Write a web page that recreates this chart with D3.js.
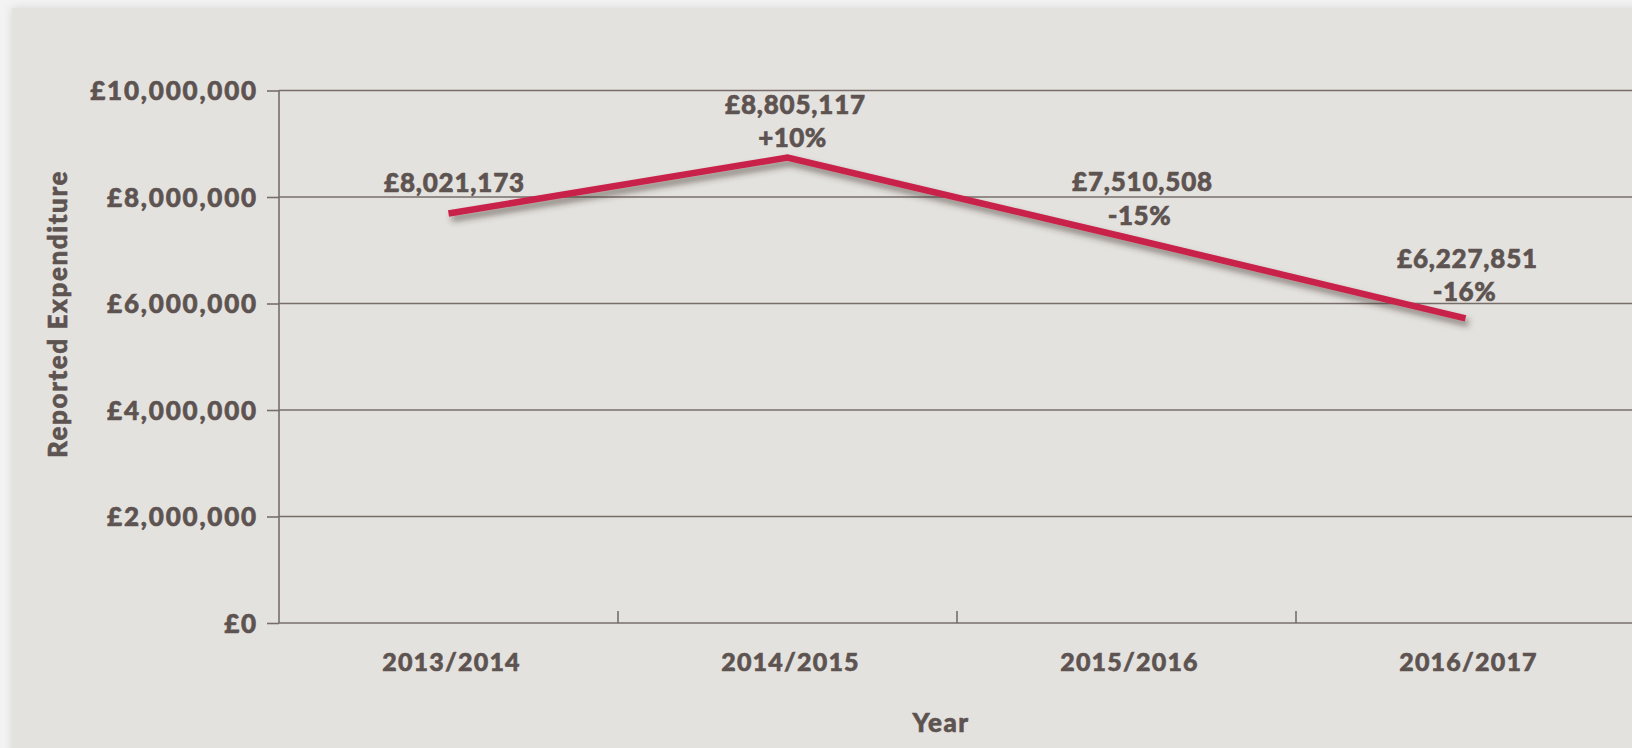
<!DOCTYPE html>
<html>
<head>
<meta charset="utf-8">
<script src="https://cdn.jsdelivr.net/npm/d3@7"></script>
<style>
  html, body { margin: 0; padding: 0; background: #f3f3f3; }
  svg { display: block; }
  text { font-family: Lato, "Open Sans", sans-serif; font-weight: 900; fill: #5d5351; stroke: #5d5351; stroke-width: 0.6px; }
</style>
</head>
<body>
<svg id="chart" width="1632" height="748"></svg>
<script>
// ---- data ----
const categories = ["2013/2014", "2014/2015", "2015/2016", "2016/2017"];
const plottedValues = [7690000, 8740000, 7240000, 5720000];
const valueLabels = ["£8,021,173", "£8,805,117", "£7,510,508", "£6,227,851"];
const changeLabels = ["", "+10%", "-15%", "-16%"];
const yTicks = [0, 2000000, 4000000, 6000000, 8000000, 10000000];
const yTitle = "Reported Expenditure";
const xTitle = "Year";

// ---- layout ----
const W = 1632, H = 748;
const svg = d3.select("#chart");
const defs = svg.append("defs");

const panelShadow = defs.append("filter").attr("id", "panelShadow")
  .attr("x", "-5%").attr("y", "-5%").attr("width", "110%").attr("height", "110%");
panelShadow.append("feDropShadow").attr("dx", 0).attr("dy", 0)
  .attr("stdDeviation", 5).attr("flood-color", "#000").attr("flood-opacity", 0.12);

const lineShadow = defs.append("filter").attr("id", "lineShadow")
  .attr("x", "-10%").attr("y", "-30%").attr("width", "120%").attr("height", "160%");
lineShadow.append("feDropShadow").attr("dx", 3).attr("dy", 5)
  .attr("stdDeviation", 3).attr("flood-color", "#3a302c").attr("flood-opacity", 0.55);

svg.append("rect").attr("x", 12).attr("y", 8).attr("width", W + 40).attr("height", H + 40)
  .attr("fill", "#e4e2de").attr("filter", "url(#panelShadow)");

const x = d3.scaleBand().domain(categories).range([279, 1635]).padding(0);
const y = d3.scaleLinear().domain([0, 10000000]).range([623, 90.5]);
const gridColor = "#776e6a";

// y axis (ticks + tick labels)
const yAxis = d3.axisLeft(y).tickValues(yTicks)
  .tickSize(12).tickPadding(9)
  .tickFormat(d => "£" + d3.format(",")(d));
const gy = svg.append("g").attr("transform", "translate(279,0)").call(yAxis);
gy.select(".domain").remove();
gy.selectAll(".tick line").attr("stroke", gridColor).attr("stroke-width", 1.6)
  .attr("x1", 0).attr("x2", -12);
gy.selectAll(".tick text").attr("font-size", 26).attr("letter-spacing", 1.8)
  .attr("dy", "0.36em").style("font-family", "Lato, sans-serif").style("font-weight", 900)
  .attr("fill", "#5d5351");
// gridlines
svg.append("g").selectAll("line").data(yTicks).join("line")
  .attr("x1", 279).attr("x2", W).attr("y1", d => y(d)).attr("y2", d => y(d))
  .attr("stroke", gridColor).attr("stroke-width", 1.6);
// left axis line
svg.append("line").attr("x1", 279).attr("x2", 279).attr("y1", y(10000000)).attr("y2", y(0))
  .attr("stroke", gridColor).attr("stroke-width", 1.6);

// x axis boundary ticks (inward)
svg.append("g").selectAll("line").data(categories.slice(1)).join("line")
  .attr("x1", d => x(d)).attr("x2", d => x(d))
  .attr("y1", y(0)).attr("y2", y(0) - 12)
  .attr("stroke", gridColor).attr("stroke-width", 1.6);

// x category labels
svg.append("g").selectAll("text").data(categories).join("text")
  .attr("x", d => x(d) + x.bandwidth() / 2 + 3)
  .attr("y", 671)
  .attr("text-anchor", "middle")
  .attr("font-size", 25).attr("letter-spacing", 1.2)
  .text(d => d);

// axis titles
svg.append("text").attr("transform", "translate(67,314) rotate(-90)")
  .attr("text-anchor", "middle").attr("font-size", 26).attr("letter-spacing", 1.6).text(yTitle);
svg.append("text").attr("x", 941).attr("y", 732)
  .attr("text-anchor", "middle").attr("font-size", 26).attr("letter-spacing", 1.5).text(xTitle);

// line
const line = d3.line()
  .x((d, i) => x(categories[i]) + x.bandwidth() / 2)
  .y(d => y(d));
svg.append("path").datum(plottedValues)
  .attr("d", line).attr("fill", "none")
  .attr("stroke", "#c8224b").attr("stroke-width", 6.5)
  .attr("stroke-linejoin", "miter").attr("stroke-linecap", "butt")
  .attr("filter", "url(#lineShadow)");

// data labels
const labelOffsets = [
  { dx: 6, dy1: 192, dy2: null },
  { dx: 8, dy1: 114, dy2: 147 },
  { dx: 16, dy1: 191, dy2: 225 },
  { dx: 2, dy1: 268, dy2: 301 }
];
const lg = svg.append("g");
categories.forEach((c, i) => {
  const cx = x(c) + x.bandwidth() / 2 + labelOffsets[i].dx;
  lg.append("text").attr("x", cx).attr("y", labelOffsets[i].dy1)
    .attr("text-anchor", "middle").attr("font-size", 26).attr("letter-spacing", 0.8)
    .text(valueLabels[i]);
  if (changeLabels[i]) {
    lg.append("text").attr("x", cx - 3).attr("y", labelOffsets[i].dy2)
      .attr("text-anchor", "middle").attr("font-size", 26).attr("letter-spacing", 0.5)
      .text(changeLabels[i]);
  }
});
</script>
</body>
</html>
